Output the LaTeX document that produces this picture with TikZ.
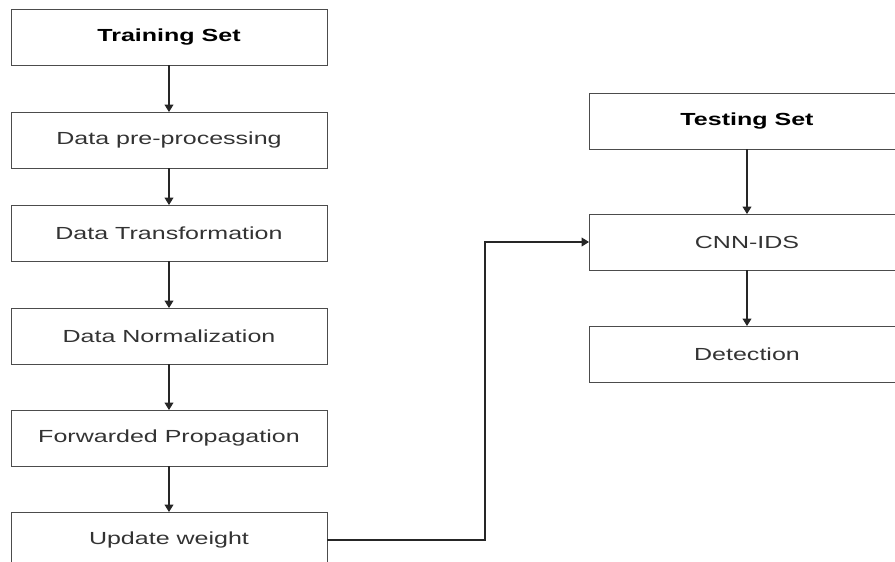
\documentclass[tikz,border=0pt]{standalone}
\usepackage{fontspec}
\setmainfont{Liberation Sans}[FakeStretch=1.43]
\usetikzlibrary{arrows.meta,positioning}

\begin{document}
\begin{tikzpicture}
			[x=1pt,y=1pt,
			stage/.style={rectangle,draw=black!70,line width=1pt,outer sep=0pt,minimum width=316pt,minimum height=56pt,inner sep=0pt,font=\fontsize{17.5}{20}\selectfont,text=black!80},
			setbox/.style={stage,font=\fontsize{17.5}{20}\selectfont\bfseries,text=black},
			flow/.style={-{Triangle[length=7.5pt,width=9pt]},line width=1.1pt,draw=black!85},
			]
			\useasboundingbox (0,0) rectangle (895,-562);
			% training side
			\node (train) [setbox] at (169,-37) {Training Set};
			\node (pre) [stage,below=47pt of train] {Data pre-processing};
			\node (trans) [stage,below=37pt of pre] {Data Transformation};
			\node (norm) [stage,below=47pt of trans] {Data Normalization};
			\node (fwd) [stage,below=46pt of norm] {Forwarded Propagation};
			\node (upd) [stage,below=46pt of fwd] {Update weight};
			% testing side
			\node (test) [setbox] at (747,-121) {Testing Set};
			\node (cnn) [stage,below=65pt of test] {CNN-IDS};
			\node (det) [stage,below=56pt of cnn] {Detection};
			\draw[flow] (train) -- (pre);
			\draw[flow] (pre) -- (trans);
			\draw[flow] (trans) -- (norm);
			\draw[flow] (norm) -- (fwd);
			\draw[flow] (fwd) -- (upd);
			\draw[flow] (test) -- (cnn);
			\draw[flow] (cnn) -- (det);
			\draw[flow] (upd.east) -- ++(158pt,0) |- (cnn.west);
			\end{tikzpicture}
\end{document}
